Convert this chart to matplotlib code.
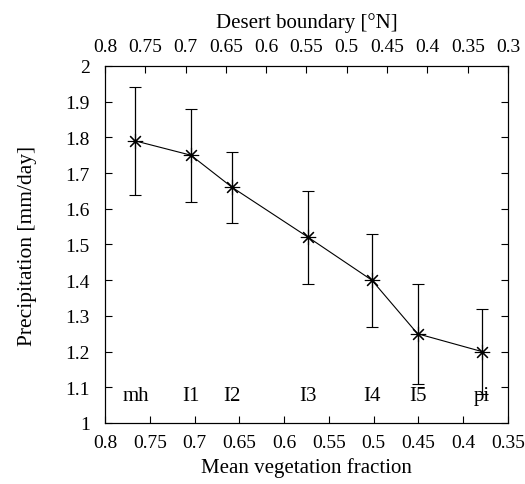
import matplotlib.pyplot as plt

plt.rcParams['font.family'] = ['Liberation Serif', 'DejaVu Serif']

# Simulations
names = ['mh', 'I1', 'I2', 'I3', 'I4', 'I5', 'pi']
veg = [0.766, 0.704, 0.658, 0.573, 0.502, 0.451, 0.379]
precip = [1.79, 1.75, 1.66, 1.52, 1.40, 1.25, 1.20]
err = [0.15, 0.13, 0.10, 0.13, 0.13, 0.14, 0.12]

xticks = [0.8, 0.75, 0.7, 0.65, 0.6, 0.55, 0.5, 0.45, 0.4, 0.35]
top_ticks = [0.8, 0.75, 0.7, 0.65, 0.6, 0.55, 0.5, 0.45, 0.4, 0.35, 0.3]
yticks = [1, 1.1, 1.2, 1.3, 1.4, 1.5, 1.6, 1.7, 1.8, 1.9, 2]

fig = plt.figure(figsize=(5.25, 4.85), dpi=100)
ax = fig.add_axes([0.2, 0.1258, 0.7676, 0.7361])

ax.errorbar(veg, precip, yerr=err, color='black', ecolor='black', lw=0.8,
            elinewidth=0.9, capsize=4, capthick=0.9,
            marker=(8, 2, 0), markersize=11, markeredgewidth=0.8)

for n, xv in zip(names, veg):
    ax.text(xv, 1.077, n, ha='center', va='center', fontsize=15)

ax.set_xlim(0.8, 0.35)
ax.set_ylim(1, 2)
ax.set_xticks(xticks)
ax.set_xticklabels([f'{v:g}' for v in xticks])
ax.set_yticks(yticks)
ax.set_yticklabels([f'{v:g}' for v in yticks])
ax.tick_params(direction='in', length=5, labelsize=14, right=True, top=False, pad=8)
ax.tick_params(axis='y', pad=11)
ax.set_xlabel('Mean vegetation fraction', fontsize=15, labelpad=4)
ax.set_ylabel('Precipitation [mm/day]', fontsize=15.5, labelpad=20)

top = ax.twiny()
top.set_xlim(0.8, 0.3)
top.set_xticks(top_ticks)
top.set_xticklabels([f'{v:g}' for v in top_ticks])
top.tick_params(direction='in', length=5, labelsize=14, pad=8)
top.set_xlabel('Desert boundary [°N]', fontsize=15, labelpad=8)

for a in (ax, top):
    for s in a.spines.values():
        s.set_linewidth(0.8)

fig.savefig('out.png', dpi=100)
